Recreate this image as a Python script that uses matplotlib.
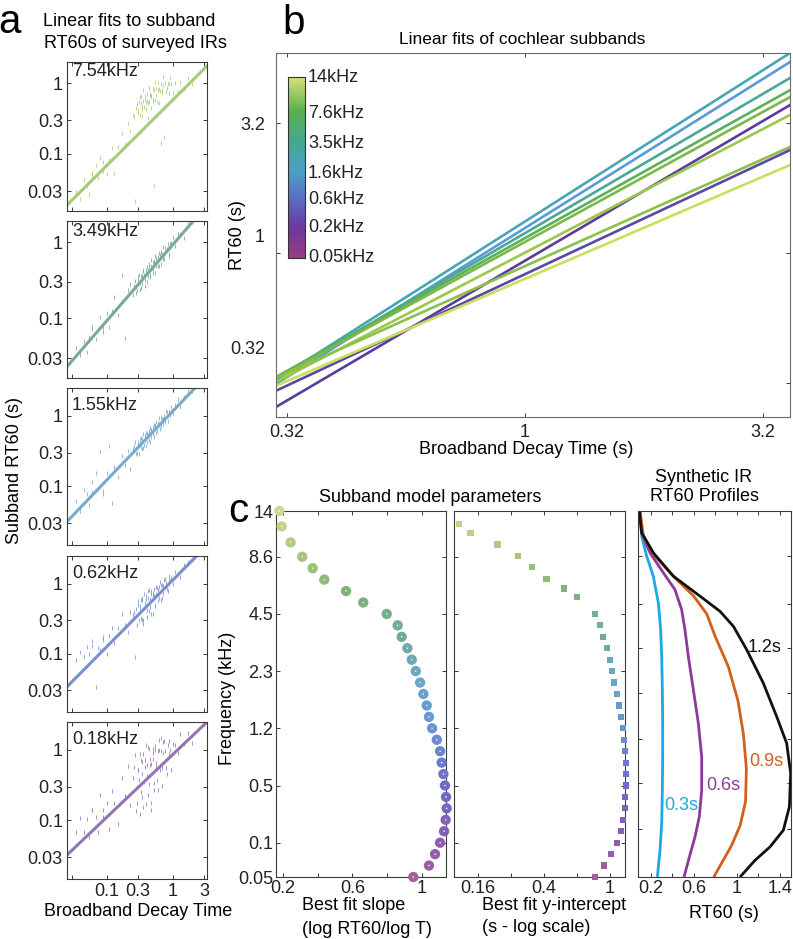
import numpy as np
import matplotlib
matplotlib.use('Agg')
import matplotlib.pyplot as plt
from matplotlib.colors import LinearSegmentedColormap
from matplotlib.ticker import FixedLocator, NullLocator, NullFormatter

plt.rcParams['font.family'] = ['Liberation Sans', 'DejaVu Sans']
plt.rcParams['font.size'] = 13

# ---------------- data ----------------
# panel a: broadband decay times of surveyed IRs (s)
ir_T = [0.035, 0.04, 0.045, 0.05, 0.055, 0.06, 0.07, 0.075, 0.08, 0.09, 0.1, 0.11, 0.12, 0.13,
        0.15, 0.17, 0.19, 0.21, 0.23, 0.25, 0.27, 0.28, 0.3, 0.31, 0.32, 0.33, 0.34, 0.35, 0.36,
        0.37, 0.38, 0.4, 0.41, 0.42, 0.44, 0.45, 0.47, 0.48, 0.5, 0.52, 0.54, 0.56, 0.58, 0.6,
        0.62, 0.65, 0.68, 0.7, 0.72, 0.75, 0.8, 0.85, 0.9, 0.95, 1.0, 1.1, 1.2, 1.3, 1.5, 1.7, 2.0,
        0.26, 0.29, 0.3, 0.32, 0.33, 0.35, 0.36, 0.38, 0.39, 0.41, 0.43, 0.44, 0.46, 0.48, 0.5,
        0.51, 0.53, 0.55, 0.57, 0.6, 0.63, 0.66, 0.69, 0.73, 0.78, 0.82, 0.88, 0.92, 0.06, 0.09]
a_bands = ['7.54kHz', '3.49kHz', '1.55kHz', '0.62kHz', '0.18kHz']
a_slope = [0.925, 0.999, 0.980, 0.953, 0.892]
a_icpt = [-0.243, -0.039, 0.064, 0.049, -0.068]   # log10 subband RT60 at T = 1 s
# residuals (log10) of subband RT60 about each fit
res_754 = [0.05, -0.10, 0.12, 0.00, -0.15, 0.08, 0.15, -0.05, 0.20, 0.10,
           -0.12, 0.05, 0.18, -0.20, 0.10, 0.25, 0.05, 0.30, 0.15, 0.35,
           -0.90, 0.40, 0.30, 0.45, 0.25, 0.50, 0.35, 0.20, 0.40, 0.30,
           0.45, 0.25, 0.35, 0.10, 0.30, 0.40, 0.20, 0.35, 0.30, -0.95,
           0.25, 0.40, 0.20, 0.35, 0.15, 0.30, -0.45, 0.25, 0.35, -0.40,
           0.20, 0.30, 0.15, 0.25, 0.10, 0.20, 0.05, 0.15, 0.00, 0.10, -0.05,
           0.30, 0.45, 0.35, 0.50, 0.40, 0.30, 0.55, 0.40, 0.35, 0.45,
           0.30, 0.50, 0.40, 0.35, 0.45, 0.25, 0.40, 0.50, 0.30, 0.45,
           0.35, 0.40, 0.30, 0.45, 0.35, 0.25, 0.30, 0.35, 0.10, -0.05]
res_349 = [0.10, -0.05, 0.08, -0.10, 0.05, 0.12, -0.08, 0.02, 0.15, -0.05,
           0.10, -0.12, 0.05, 0.20, -0.10, 0.38, -0.50, 0.08, 0.12, -0.05,
           0.10, -0.08, 0.05, 0.12, -0.10, 0.08, 0.02, -0.06, 0.10, 0.04,
           -0.12, 0.06, 0.10, -0.04, 0.08, -0.08, 0.05, 0.12, -0.02, 0.06,
           -0.10, 0.08, 0.03, -0.05, 0.10, 0.05, -0.08, 0.04, 0.12, -0.06,
           0.02, 0.08, -0.10, 0.05, 0.10, -0.05, 0.06, 0.02, -0.08, 0.05, 0.00,
           0.05, -0.05, 0.10, 0.00, -0.08, 0.06, 0.12, -0.04, 0.08, -0.10,
           0.04, 0.10, -0.06, 0.02, 0.08, -0.08, 0.05, 0.12, -0.03, 0.06,
           -0.07, 0.09, 0.02, -0.05, 0.07, 0.03, -0.06, 0.05, 0.15, -0.10]
res_155 = [0.15, -0.05, 0.20, 0.10, -0.10, 0.05, 0.25, 0.00, 0.50, -0.15,
           0.10, 0.45, -0.40, 0.08, -0.12, 0.12, -0.05, 0.10, -0.20, 0.05,
           0.12, -0.06, 0.08, -0.10, 0.05, 0.10, -0.08, 0.03, 0.12, -0.05,
           0.06, -0.10, 0.08, 0.02, -0.06, 0.10, -0.04, 0.05, 0.08, -0.08,
           0.04, 0.10, -0.05, 0.06, 0.02, -0.07, 0.08, 0.03, -0.04, 0.06,
           0.10, -0.06, 0.04, 0.08, -0.02, 0.05, 0.10, -0.05, 0.03, 0.06, 0.00,
           0.08, -0.06, 0.04, 0.10, -0.03, 0.06, -0.08, 0.05, 0.09, -0.05,
           0.03, 0.07, -0.10, 0.05, 0.02, -0.04, 0.08, 0.06, -0.06, 0.04,
           0.10, -0.03, 0.05, 0.02, -0.05, 0.07, 0.04, -0.02, 0.20, -0.10]
res_062 = [0.25, 0.30, 0.20, 0.28, 0.15, 0.22, -0.42, 0.10, 0.05, 0.15,
           -0.10, 0.12, 0.20, -0.05, 0.10, 0.25, 0.05, -0.10, 0.15, 0.08,
           -0.55, 0.12, 0.20, -0.08, 0.10, 0.18, -0.12, 0.15, -0.20, 0.22,
           0.05, 0.15, -0.15, 0.10, 0.20, -0.05, 0.12, -0.18, 0.08, 0.15,
           -0.10, 0.05, 0.12, -0.08, 0.10, 0.15, -0.12, 0.08, -0.05, 0.12,
           0.05, -0.08, 0.10, 0.05, -0.05, 0.08, 0.02, -0.06, 0.05, 0.04, 0.00,
           0.10, -0.12, 0.15, 0.05, -0.08, 0.18, -0.15, 0.08, 0.12, -0.05,
           0.20, -0.10, 0.06, 0.15, -0.20, 0.10, 0.04, -0.12, 0.14, 0.08,
           -0.06, 0.10, -0.10, 0.05, 0.12, -0.04, 0.06, 0.02, 0.30, 0.18]
res_018 = [0.20, 0.35, 0.10, 0.25, -0.05, 0.30, 0.15, -0.10, 0.40, 0.05,
           0.20, -0.20, 0.30, 0.10, -0.25, 0.35, 0.05, 0.45, -0.15, 0.20,
           0.50, -0.30, 0.25, 0.10, -0.40, 0.35, 0.15, -0.20, 0.40, 0.00,
           0.30, -0.35, 0.20, 0.45, -0.10, 0.25, -0.50, 0.15, 0.35, -0.25,
           0.30, 0.05, -0.15, 0.25, 0.40, -0.05, 0.20, -0.30, 0.15, 0.30,
           -0.10, 0.20, 0.05, -0.20, 0.15, 0.10, -0.05, 0.20, 0.00, 0.10, -0.10,
           0.35, -0.20, 0.25, 0.45, -0.10, 0.30, -0.35, 0.20, 0.50, 0.05,
           -0.25, 0.40, 0.15, -0.40, 0.30, 0.20, -0.15, 0.35, 0.10, -0.30,
           0.25, 0.40, -0.05, 0.30, 0.15, -0.20, 0.25, 0.10, 0.30, 0.15]
a_res = [res_754, res_349, res_155, res_062, res_018]
a_colors = ['#a9c97a', '#79ab92', '#78aacb', '#7891cc', '#9474b4']

# panel b: subband fits (log10 RT60 = icpt + slope*log10 T)
b_slope = [1.351, 1.331, 1.244, 1.186, 1.161, 1.248, 1.104, 0.955, 0.995, 0.913]
b_icpt = [0.060, 0.031, 0.008, -0.014, -0.031, -0.115, -0.079, -0.139, -0.175, -0.196]
b_colors = ['#46a6b6', '#5a9ad8', '#4aa896', '#5cb05a', '#7ab848', '#5a3c9c',
            '#9cc84a', '#8cc048', '#5a48a4', '#c8e05c']
cbar_labels = ['14kHz', '7.6kHz', '3.5kHz', '1.6kHz', '0.6kHz', '0.2kHz', '0.05kHz']
cbar_label_y = [77, 113, 143, 173, 199, 227, 257]

# panel c: frequency channel positions and tick labels
freq_tick_pos = [0, 3, 8, 13, 18, 23, 28, 32]
freq_tick_lab = ['0.05', '0.1', '0.5', '1.2', '2.3', '4.5', '8.6', '14']
slope_pos = list(range(0, 29)) + [29.25, 30.65, 32.0]
slope_val = [0.950, 1.040, 1.075, 1.104, 1.127, 1.136, 1.142, 1.138, 1.132, 1.123,
             1.113, 1.104, 1.085, 1.058, 1.040, 1.027, 1.008, 0.989, 0.964, 0.941,
             0.916, 0.883, 0.860, 0.797, 0.662, 0.563, 0.438, 0.371, 0.311, 0.244,
             0.193, 0.179]
icpt_pos = list(range(0, 24)) + [24.47, 25.23, 26.07, 27.07, 28.09, 29.08, 30.1, 30.83]
icpt_val = [0.815, 0.920, 1.018, 1.107, 1.166, 1.199, 1.227, 1.239, 1.245, 1.245,
            1.245, 1.233, 1.211, 1.194, 1.161, 1.134, 1.103, 1.062, 1.033, 1.000,
            0.955, 0.908, 0.866, 0.811, 0.628, 0.528, 0.413, 0.337, 0.276, 0.208,
            0.143, 0.1216]

# synthetic IR profiles: RT60 (s) vs channel position
prof_labels = ['0.3s', '0.6s', '0.9s', '1.2s']
prof_colors = ['#1ba9e1', '#8b3a9b', '#d2601c', '#111111']
p03_pos = [32.0, 29.81, 28.05, 26.3, 23.96, 21.62, 19.29, 16.36, 13.44, 10.52, 7.6, 4.68, 2.34, 0.0]
p03_rt = [0.101, 0.116, 0.163, 0.224, 0.271, 0.292, 0.302, 0.308, 0.311, 0.311, 0.308, 0.302, 0.286, 0.262]
p06_pos = [32.0, 30.1, 28.35, 26.6, 25.13, 23.38, 21.62, 19.29, 16.36, 13.44, 10.52, 7.6, 5.26, 3.51, 1.75, 0.0]
p06_rt = [0.101, 0.116, 0.193, 0.317, 0.425, 0.487, 0.518, 0.549, 0.596, 0.642, 0.673, 0.673, 0.651, 0.611, 0.559, 0.509]
p09_pos = [32.0, 29.81, 28.05, 26.3, 24.55, 23.0, 21.0, 18.4, 15.4, 12.5, 9.5, 6.6, 4.5, 2.75, 0.0]
p09_rt = [0.101, 0.132, 0.24, 0.41, 0.60, 0.72, 0.80, 0.92, 1.01, 1.06, 1.088, 1.08, 1.03, 0.95, 0.785]
p12_pos = [32.0, 30.1, 28.35, 26.3, 24.55, 23.23, 21.92, 19.87, 16.95, 14.03, 11.69, 9.06, 6.14, 4.09, 2.63, 1.46, 0.0]
p12_rt = [0.0945, 0.116, 0.224, 0.41, 0.658, 0.843, 0.967, 1.091, 1.245, 1.369, 1.462, 1.499, 1.487, 1.431, 1.307, 1.168, 1.029]
prof_pos = [p03_pos, p06_pos, p09_pos, p12_pos]
prof_rt = [p03_rt, p06_rt, p09_rt, p12_rt]
c3_ytick_pos = [4.2, 8.2, 12.1, 16.05, 20.0, 23.9, 28.05]

# ---------------- figure ----------------
W, H = 793, 939
fig = plt.figure(figsize=(W / 100, H / 100), dpi=100)


def rect(l, t, r, b):
    return [l / W, 1 - b / H, (r - l) / W, (b - t) / H]


def ftext(x, y, s, **kw):
    kw.setdefault('ha', 'center')
    kw.setdefault('va', 'center')
    fig.text(x / W, 1 - y / H, s, **kw)


def style(ax, pad=3):
    for sp in ax.spines.values():
        sp.set_color('#3a3a3a')
        sp.set_linewidth(0.8)
    ax.tick_params(which='both', direction='in', top=True, right=True, length=3,
                   width=0.7, colors='#3a3a3a', labelcolor='#222222', labelsize=13, pad=pad)


cmap_b = LinearSegmentedColormap.from_list('sub', [
    (0.0, '#9b3a80'), (0.17, '#6a3a9e'), (0.33, '#5a70c2'), (0.48, '#4aa0c8'),
    (0.64, '#46a890'), (0.81, '#58b04c'), (1.0, '#d4e27a')])
cmap_c = LinearSegmentedColormap.from_list('subc', [
    (0.0, '#a0609e'), (0.12, '#8a5cb2'), (0.25, '#6e6cc4'), (0.4, '#6a92d4'),
    (0.55, '#6aa6c6'), (0.68, '#70ac98'), (0.78, '#80b276'), (0.9, '#b0c87e'),
    (1.0, '#ccd890')])

# ---------- panel a ----------
a_boxes = [(62, 211), (221, 378), (388, 545), (556, 712), (722, 879)]
a_ylims = [(0.01567, 1.98), (0.0164, 1.887), (0.0146, 2.5), (0.0146, 2.5), (0.0146, 2.5)]
a_xlim = (0.0252, 3.33)
T = np.array(ir_T)
for i in range(5):
    t, b = a_boxes[i]
    ax = fig.add_axes(rect(67, t, 207, b))
    ax.set_xscale('log')
    ax.set_yscale('log')
    yv = 10 ** (a_icpt[i] + a_slope[i] * np.log10(T) + np.array(a_res[i]))
    ax.plot(T, yv, linestyle='none', marker='|', markersize=3, mew=0.7,
            color=a_colors[i], alpha=0.8)
    xs = np.array(a_xlim)
    ax.plot(xs, 10 ** (a_icpt[i] + a_slope[i] * np.log10(xs)), color=a_colors[i], lw=2.2)
    ax.set_xlim(*a_xlim)
    ax.set_ylim(*a_ylims[i])
    ax.xaxis.set_major_locator(FixedLocator([0.03, 0.1, 0.3, 1, 3]))
    ax.xaxis.set_minor_locator(NullLocator())
    ax.yaxis.set_major_locator(FixedLocator([0.03, 0.1, 0.3, 1]))
    ax.yaxis.set_minor_locator(NullLocator())
    ax.set_yticklabels(['0.03', '0.1', '0.3', '1'])
    if i == 4:
        ax.set_xticklabels(['', '0.1', '0.3', '1', '3'])
    else:
        ax.set_xticklabels([])
    style(ax)
    off = 10 if i < 2 else 17
    ftext(72, t + off, a_bands[i], ha='left', fontsize=13, color='#222222')

ftext(10, 22, 'a', fontsize=29)
ftext(129, 21, 'Linear fits to subband', fontsize=13)
ftext(135, 43, 'RT60s of surveyed IRs', fontsize=13)
ftext(15, 470, 'Subband RT60 (s)', rotation=90, fontsize=13)
ftext(138, 912, 'Broadband Decay Time', fontsize=13)

# ---------- panel b ----------
axb = fig.add_axes(rect(276, 53, 790, 417))
axb.set_xscale('log')
axb.set_yscale('log')
bx = np.array([10 ** -0.523, 10 ** 0.557])
for s, c, col in zip(b_slope, b_icpt, b_colors):
    axb.plot(bx, 10 ** (c + s * np.log10(bx)), color=col, lw=1.9)
axb.set_xlim(*bx)
axb.set_ylim(10 ** -0.8125, 10 ** 0.8125)
axb.xaxis.set_major_locator(FixedLocator([10 ** -0.5, 1, 10 ** 0.5]))
axb.xaxis.set_minor_locator(NullLocator())
axb.set_xticklabels(['0.32', '1', '3.2'])
axb.yaxis.set_major_locator(FixedLocator([10 ** -0.5, 1, 10 ** 0.5]))
axb.yaxis.set_minor_locator(FixedLocator([0.2184, 0.831, 3.162]))
axb.yaxis.set_minor_formatter(NullFormatter())
axb.set_yticklabels(['0.32', '1', '3.2'])
style(axb, pad=5)
for sp in axb.spines.values():
    sp.set_color('#6a6a6a')
axb.tick_params(axis='y', which='major', length=0, pad=8)
axb.tick_params(axis='x', which='major', pad=5)

axcb = fig.add_axes(rect(288, 77, 305, 258))
axcb.imshow(np.linspace(0, 1, 256)[:, None], aspect='auto', cmap=cmap_b, origin='lower',
            extent=[0, 1, 0, 1])
axcb.set_xticks([])
axcb.set_yticks([])
for sp in axcb.spines.values():
    sp.set_color('#333333')
    sp.set_linewidth(0.8)
for lab, yy in zip(cbar_labels, cbar_label_y):
    ftext(308, yy, lab, ha='left', fontsize=13, color='#222222')

ftext(294, 23, 'b', fontsize=29)
ftext(522, 40, 'Linear fits of cochlear subbands', fontsize=12.5)
ftext(237, 235, 'RT60 (s)', rotation=90, fontsize=13)
ftext(526, 450, 'Broadband Decay Time (s)', fontsize=13)

# ---------- panel c1: slopes ----------
ax1 = fig.add_axes(rect(276, 511, 446, 877))
ax1.scatter(slope_val, slope_pos, s=55, c=[cmap_c(p / 32) for p in slope_pos],
            edgecolors='none', clip_on=False, zorder=3)
ax1.scatter(slope_val, slope_pos, s=1.2, c='white', edgecolors='none', clip_on=False, zorder=4)
ax1.set_xlim(0.16, 1.138)
ax1.set_ylim(0, 32)
ax1.set_xticks([0.2, 0.4, 0.6, 0.8, 1.0])
ax1.set_xticklabels(['0.2', '', '0.6', '', '1'])
ax1.set_yticks(freq_tick_pos)
ax1.set_yticklabels(freq_tick_lab)
style(ax1, pad=2)

# ---------- panel c2: intercepts ----------
ax2 = fig.add_axes(rect(454, 511, 625, 877))
ax2.set_xscale('log')
ax2.scatter(icpt_val, icpt_pos, s=20, marker='s', c=[cmap_c(p / 32) for p in icpt_pos],
            edgecolors='none', clip_on=False, zorder=3)
ax2.set_xlim(0.1135, 1.233)
ax2.set_ylim(0, 32)
ax2.xaxis.set_major_locator(FixedLocator([10 ** -0.8, 10 ** -0.6, 10 ** -0.4, 10 ** -0.2, 1]))
ax2.xaxis.set_minor_locator(NullLocator())
ax2.set_xticklabels(['0.16', '', '0.4', '', '1'])
ax2.set_yticks(freq_tick_pos)
ax2.set_yticklabels([])
style(ax2, pad=2)

# ---------- panel c3: synthetic profiles ----------
ax3 = fig.add_axes(rect(638, 511, 791, 877))
for rt, pos, col in zip(prof_rt, prof_pos, prof_colors):
    ax3.plot(rt, pos, color=col, lw=2.0, solid_capstyle='butt')
ax3.set_xlim(0.082, 1.502)
ax3.set_ylim(0, 32)
ax3.set_xticks([0.2, 0.4, 0.6, 0.8, 1.0, 1.2, 1.4])
ax3.set_xticklabels(['0.2', '', '0.6', '', '1', '', '1.4'])
ax3.set_yticks(c3_ytick_pos)
ax3.set_yticklabels([])
style(ax3, pad=2)
prof_label_xy = [(681, 805), (723, 785), (766, 762), (765, 647)]
for lab, col, (xx, yy) in zip(prof_labels, prof_colors, prof_label_xy):
    ftext(xx, yy, lab, color=col, fontsize=13)

ftext(238, 511, 'c', fontsize=29)
ftext(430, 498, 'Subband model parameters', fontsize=13)
ftext(704, 478, 'Synthetic IR', fontsize=13)
ftext(704, 497, 'RT60 Profiles', fontsize=13)
ftext(228, 698, 'Frequency (kHz)', rotation=90, fontsize=13)
ftext(302, 906, 'Best fit slope', ha='left', fontsize=13)
ftext(302, 929, '(log RT60/log T)', ha='left', fontsize=13)
ftext(482, 906, 'Best fit y-intercept', ha='left', fontsize=13)
ftext(482, 928, '(s - log scale)', ha='left', fontsize=13)
ftext(724, 913, 'RT60 (s)', fontsize=13)

fig.savefig('out.png', dpi=100)
